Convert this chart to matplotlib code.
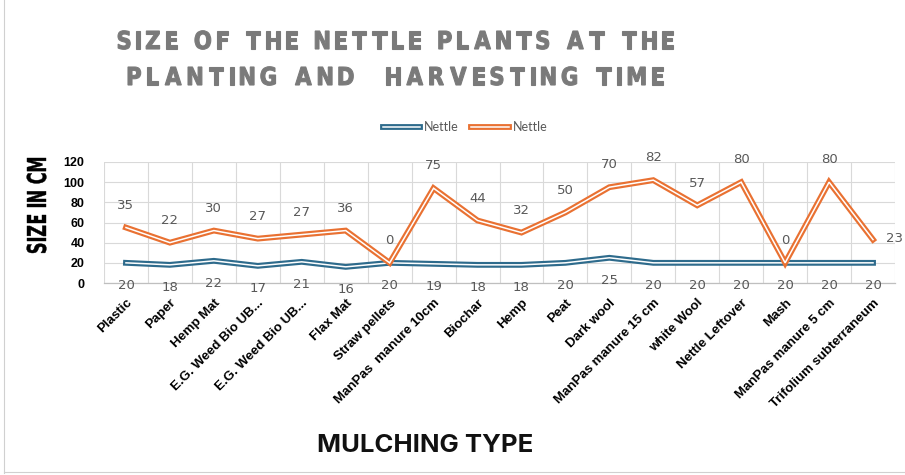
import matplotlib
matplotlib.use("Agg")
import matplotlib.pyplot as plt
import matplotlib.patheffects as pe
from matplotlib import font_manager
from matplotlib.lines import Line2D
from matplotlib.patches import PathPatch
from matplotlib.textpath import TextPath
from matplotlib.font_manager import FontProperties
from matplotlib.transforms import Affine2D, IdentityTransform
import numpy as np

categories = ["Plastic", "Paper", "Hemp Mat", "E.G. Weed Bio UB...", "E.G. Weed Bio UB...",
              "Flax Mat", "Straw pellets", "ManPas  manure 10cm", "Biochar", "Hemp", "Peat",
              "Dark wool", "ManPas manure 15 cm", "white Wool", "Nettle Leftover", "Mash",
              "ManPas manure 5 cm", "Trifolium subterraneum"]
planting = [20, 18, 22, 17, 21, 16, 20, 19, 18, 18, 20, 25, 20, 20, 20, 20, 20, 20]
harvest = [35, 22, 30, 27, 27, 36, 0, 75, 44, 32, 50, 70, 82, 57, 80, 0, 80, 23]
series_names = ["Nettle", "Nettle"]
y_ticks = [0, 20, 40, 60, 80, 100, 120]
title_lines = ["SIZE OF THE NETTLE PLANTS AT THE", "PLANTING AND  HARVESTING TIME"]
y_title = "SIZE IN CM"
x_title = "MULCHING TYPE"

BLUE = "#2E6B8C"
ORANGE = "#E97132"
LABEL_GREY = "#595959"
TITLE_GREY = "#7A7A7A"
GRID = "#D9D9D9"

available = {f.name for f in font_manager.fontManager.ttflist}


def pick(*names):
    for n in names:
        if n in available:
            return n
    return "DejaVu Sans"


body_font = pick("Inter", "Roboto")
tick_font = pick("Liberation Sans", "Arial")
legend_font = pick("Lato", "Open Sans")

W, H = 905, 475
fig = plt.figure(figsize=(W / 100, H / 100), dpi=100)
ax = fig.add_axes([104 / W, 1 - 283 / H, 791 / W, 121 / H])

x = np.arange(len(categories))
stacked = np.array(planting) + np.array(harvest)


def double_line(color):
    return dict(color="white", lw=1.1, solid_joinstyle="miter",
                path_effects=[pe.Stroke(linewidth=4.2, foreground=color, joinstyle="miter"),
                              pe.Normal()])


ax.plot(x, planting, **double_line(BLUE), zorder=3)
ax.plot(x, stacked, **double_line(ORANGE), zorder=3)

# value labels: planting below its line, harvest growth above the stacked line
for xi, v in zip(x, planting):
    ax.annotate(str(v), (xi, v), xytext=(0, -16), textcoords="offset points",
                ha="center", va="center", fontsize=9.5, color=LABEL_GREY, zorder=4)
for i, (xi, s, v) in enumerate(zip(x, stacked, harvest)):
    if i == len(x) - 1:
        ax.annotate(str(v), (xi, s), xytext=(9, 1), textcoords="offset points",
                    ha="left", va="center", fontsize=9.5, color=LABEL_GREY,
                    zorder=4, annotation_clip=False)
    else:
        ax.annotate(str(v), (xi, s), xytext=(0, 16), textcoords="offset points",
                    ha="center", va="center", fontsize=9.5, color=LABEL_GREY,
                    zorder=4, annotation_clip=False)

ax.set_xlim(-0.5, len(categories) - 0.5)
ax.set_ylim(0, 120)
ax.set_yticks(y_ticks)
ax.set_yticklabels([str(t) for t in y_ticks], fontsize=9, fontweight="bold",
                   color="black", family=tick_font)
ax.tick_params(axis="y", length=0, pad=14)

ax.set_xticks(x)
ax.set_xticklabels(categories, rotation=45, ha="right", rotation_mode="anchor",
                   fontsize=9.5, fontweight="bold", color="black", family=tick_font)
ax.tick_params(axis="x", length=0, pad=10)

ax.set_xticks(np.arange(len(categories) + 1) - 0.5, minor=True)
ax.tick_params(axis="x", which="minor", length=0)
ax.grid(True, which="minor", axis="x", color=GRID, lw=0.8)
ax.grid(True, which="major", axis="y", color=GRID, lw=0.8)
ax.set_axisbelow(True)
for side in ["top", "right", "left"]:
    ax.spines[side].set_visible(False)
ax.spines["bottom"].set_color("#BFBFBF")
ax.spines["bottom"].set_linewidth(0.9)

fig.text(425 / W, 1 - 445 / H, x_title, fontsize=18.5, fontweight="bold",
         color="#111111", family=body_font, ha="center", va="center")

# legend with double-line handles
handles = [Line2D([], [], **double_line(BLUE)), Line2D([], [], **double_line(ORANGE))]
fig.legend(handles, series_names, loc="center", bbox_to_anchor=(465 / W, 1 - 127 / H),
           ncol=2, frameon=False, handlelength=3.0, columnspacing=1.0,
           handletextpad=0.3, labelcolor=LABEL_GREY, prop={"family": legend_font, "size": 9})


# condensed, letter-spaced text drawn as glyph outlines in pixel coordinates
def glyph_run(s, prop, cap_px, x_scale, span_px, color, place, space_em=0.5, weight_px=0.6):
    size = cap_px / 0.729
    paths, advances = [], []
    for ch in s:
        if ch == " ":
            paths.append(None)
            advances.append(size * space_em * x_scale)
            continue
        tp = TextPath((0, 0), ch, size=size, prop=prop)
        ext = tp.get_extents()
        tp = Affine2D().translate(-ext.x0, 0).scale(x_scale, 1).transform_path(tp)
        paths.append(tp)
        advances.append((ext.x1 - ext.x0) * x_scale)
    tracking = (span_px - sum(advances)) / (len(s) - 1)
    pos = 0.0
    for p, adv in zip(paths, advances):
        if p is not None:
            tr = Affine2D().translate(pos, 0) + place
            fig.add_artist(PathPatch(tr.transform_path(p), facecolor=color,
                                     edgecolor=color, linewidth=weight_px * 0.72,
                                     transform=IdentityTransform()))
        pos += adv + tracking


bold_prop = FontProperties(family="DejaVu Sans", weight="bold")
glyph_run(title_lines[0], bold_prop, 18, 0.86, 673 - 118, TITLE_GREY,
          Affine2D().translate(118, H - 49), space_em=0.3, weight_px=1.1)
glyph_run(title_lines[1], bold_prop, 18, 0.86, 663 - 128, TITLE_GREY,
          Affine2D().translate(128, H - 85), space_em=0.3, weight_px=1.1)

# vertical axis title, reading bottom to top
glyph_run(y_title, bold_prop, 19, 0.62, 253 - 158, "black",
          Affine2D().rotate_deg(90).translate(46, H - 253), space_em=0.2, weight_px=0.4)

# chart border
fig.add_artist(Line2D([4 / W, 4 / W], [0.005, 1], transform=fig.transFigure,
                      color="#D0D0D0", lw=0.8))
fig.add_artist(Line2D([4 / W, 1], [1 - 472 / H, 1 - 472 / H], transform=fig.transFigure,
                      color="#D0D0D0", lw=0.8))

fig.savefig("out.png", dpi=100)
